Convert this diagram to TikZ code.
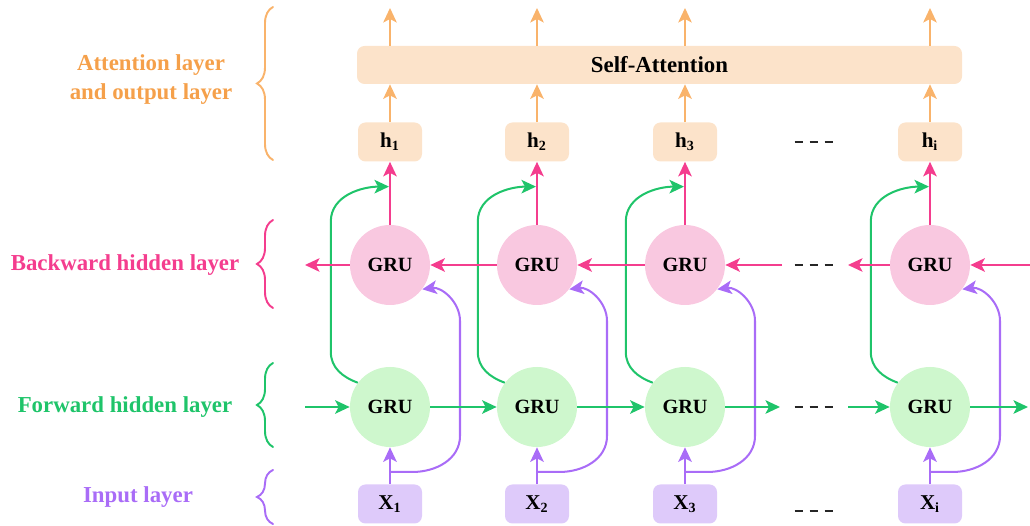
\documentclass[tikz,border=0pt]{standalone}
\usepackage{fontspec}
\setmainfont{Liberation Serif}
\usetikzlibrary{arrows.meta,decorations.pathreplacing,calc}

\definecolor{attn}{HTML}{F5A04A}
\definecolor{attnline}{HTML}{F9B36B}
\definecolor{attnfill}{HTML}{FCE3CA}
\definecolor{bwd}{HTML}{F43D8E}
\definecolor{bwdfill}{HTML}{F9C8E0}
\definecolor{fwd}{HTML}{1FC46A}
\definecolor{fwdfill}{HTML}{CEF7CD}
\definecolor{inp}{HTML}{A96CF7}
\definecolor{inpfill}{HTML}{DECAFA}

\begin{document}
\begin{tikzpicture}[
    font=\bfseries\fontsize{12}{14}\selectfont,
    tip/.style={-{Stealth[length=2.9mm,width=2.7mm,inset=0.7mm]}, line width=1.15pt},
    gru/.style={circle, minimum size=1.6cm, inner sep=0pt, font=\bfseries\fontsize{11.5}{13}\selectfont},
    cell/.style={rounded corners=1.5mm, minimum width=1.28cm, minimum height=0.78cm, inner sep=0pt},
    dots/.style={line width=1.6pt, dash pattern=on 0.17cm off 0.13cm, black!85},
    layerbrace/.style={decorate, decoration={brace, amplitude=0.32cm}, line width=1.1pt, line cap=round},
    layername/.style={font=\bfseries\fontsize{13}{16.5}\selectfont, align=center}
]
    \useasboundingbox (0,0) rectangle (20.6,10.52);

    % layer names and braces
    \node[layername, text=attn] (lattn) at (3.02,8.93) {Attention layer\\and output layer};
    \node[layername, text=bwd] (lbwd) at (2.5,5.22) {Backward hidden layer};
    \node[layername, text=fwd] (lfwd) at (2.5,2.38) {Forward hidden layer};
    \node[layername, text=inp] (linp) at (2.76,0.58) {Input layer};

    \draw[layerbrace, attnline] (5.46,7.32) -- (5.46,10.38);
    \draw[layerbrace, bwd] (5.46,4.36) -- (5.46,6.12);
    \draw[layerbrace, fwd] (5.46,1.58) -- (5.46,3.26);
    \draw[layerbrace, inp] (5.46,0.04) -- (5.46,1.12);

    % self-attention block
    \node[cell, fill=attnfill, minimum width=12.1cm, minimum height=0.76cm,
          font=\bfseries\fontsize{13}{15}\selectfont] (att) at (13.19,9.22) {Self-Attention};

    % one column per time step
    \foreach \n/\x in {1/7.8, 2/10.74, 3/13.7, i/18.6} {
        \node[cell, fill=inpfill] (x\n) at (\x,0.44) {X\textsubscript{\n}};
        \node[gru, fill=fwdfill] (fw\n) at (\x,2.38) {GRU};
        \node[gru, fill=bwdfill] (bw\n) at (\x,5.22) {GRU};
        \node[cell, fill=attnfill] (h\n) at (\x,7.68) {h\textsubscript{\n}};
        \coordinate (top\n) at (\x,10.36);
        \coordinate (split\n) at (\x,1.08);

        \draw[tip, inp] (x\n) -- (fw\n);
        \draw[tip, inp] (split\n) -- ++(0.45,0) to[out=0, in=-90] ++(0.95,0.72)
            -- ++(0,2.3) to[out=90, in=8] (bw\n.-37);
        \draw[tip, fwd] (fw\n.143) to[out=160, in=-90] ++(-0.54,0.62)
            -- ++(0,2.6) to[out=90, in=180] ($(bw\n.north)+(-0.02,0.76)$);
        \draw[tip, bwd] (bw\n) -- (h\n);
        \draw[tip, attnline] (h\n) -- (h\n |- att.south);
        \draw[tip, attnline] (h\n |- att.north) -- (top\n);
    }

    % forward chain
    \coordinate (fin) at (6.1,2.38);
    \coordinate (fgapl) at (15.6,2.38);
    \coordinate (fgapr) at (16.96,2.38);
    \coordinate (fout) at (20.56,2.38);
    \draw[tip, fwd] (fin) -- (fw1);
    \draw[tip, fwd] (fw1) -- (fw2);
    \draw[tip, fwd] (fw2) -- (fw3);
    \draw[tip, fwd] (fw3) -- (fgapl);
    \draw[tip, fwd] (fgapr) -- (fwi);
    \draw[tip, fwd] (fwi) -- (fout);

    % backward chain
    \coordinate (bin) at (20.6,5.22);
    \coordinate (bgapr) at (16.96,5.22);
    \coordinate (bgapl) at (15.64,5.22);
    \coordinate (bout) at (6.1,5.22);
    \draw[tip, bwd] (bin) -- (bwi);
    \draw[tip, bwd] (bwi) -- (bgapr);
    \draw[tip, bwd] (bgapl) -- (bw3);
    \draw[tip, bwd] (bw3) -- (bw2);
    \draw[tip, bwd] (bw2) -- (bw1);
    \draw[tip, bwd] (bw1) -- (bout);

    % skipped steps
    \foreach \y in {0.3, 2.38, 5.22, 7.68}
        \draw[dots] (15.89,\y) -- (16.66,\y);
\end{tikzpicture}
\end{document}
